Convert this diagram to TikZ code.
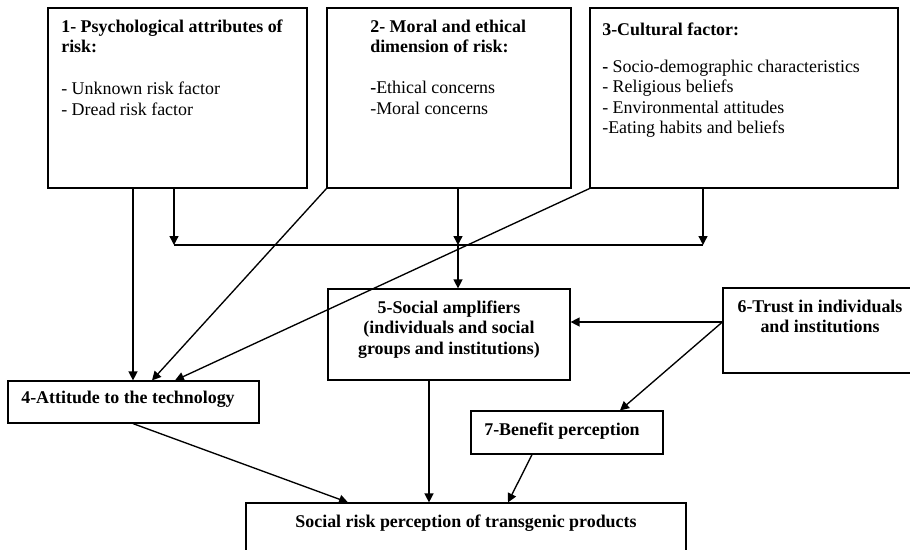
\documentclass[tikz,border=0pt]{standalone}
\usepackage{fontspec}
\setmainfont{Liberation Serif}
\usetikzlibrary{arrows.meta,fit}

\begin{document}
\begin{tikzpicture}[x=0.67pt, y=-0.67pt,
		box/.style={draw, line width=0.8pt, inner sep=0pt},
		txt/.style={inner sep=0pt, font=\fontsize{12}{13.7}\selectfont},
		btxt/.style={inner sep=0pt, font=\fontsize{12}{13.7}\selectfont\bfseries},
		arr/.style={line width=0.9pt, -{Triangle[length=6pt, width=6pt]}}]
				
				\useasboundingbox (0,0) rectangle (910,550);
				\clip (0,0) rectangle (910,550);
				
				%Level 1
				\node[box, fit={(48,8) (307,188)}] (psy) {};
				\node[box, fit={(327,8) (571,188)}] (mor) {};
				\node[box, fit={(590,8) (898,188)}] (cul) {};
				\node[txt, anchor=north west, align=left] (psytext) at (61,17.7) {\strut\textbf{1- Psychological attributes of}\\\textbf{risk:}\\[14.4pt]- Unknown risk factor\\- Dread risk factor};
				\node[txt, anchor=north west, align=left] (mortext) at (370,17.7) {\strut\textbf{2- Moral and ethical}\\\textbf{dimension of risk:}\\[13.8pt]\textbf{-}Ethical concerns\\-Moral concerns};
				\node[txt, anchor=north west, align=left] (cultext) at (602,20.7) {\strut\textbf{3-Cultural factor:}\\[11.1pt]\textbf{-} Socio-demographic characteristics\\- Religious beliefs\\- Environmental attitudes\\-Eating habits and beliefs};
				
				%Level 2
				\node[box, fit={(328,289) (570,380)}] (amp) {};
				\node[box, fit={(723,288) (917,373)}] (tru) {};
				\node[btxt, anchor=north, align=center] (amptext) at (449,298.7) {\strut 5-Social amplifiers\\(individuals and social\\groups and institutions)};
				\node[btxt, anchor=north, align=center] (trutext) at (820,297.7) {\strut 6-Trust in individuals\\and institutions};
				
				%Level 3
				\node[box, fit={(8,381) (259,423)}] (att) {};
				\node[box, fit={(471,411) (663,454)}] (ben) {};
				\node[box, fit={(246,503) (686,560)}] (soc) {};
				\node[btxt, anchor=base west] (atttext) at (21,403) {4-Attitude to the technology};
				\node[btxt, anchor=base west] (bentext) at (484,435) {7-Benefit perception};
				\node[btxt, anchor=base] (soctext) at (466,527) {Social risk perception of transgenic products};
				
				%Lines
				\coordinate (jl) at (174,245);
				\coordinate (jr) at (703,245);
				\draw[line width=0.9pt] (jl) -- (jr);
				\draw[arr] (psy.south -| jl) -- (jl);
				\draw[arr] (cul.south -| jr) -- (jr);
				\draw[arr] (mor.south -| 458,0) -- (jl -| 458,0);
				\draw[arr] (jl -| 458,0) -- (amp.north -| 458,0);
				
				\draw[arr] (psy.south -| 133,0) -- (att.north -| 133,0);
				\draw[arr] (mor.south west) -- (att.north -| 152,0);
				\draw[arr] (cul.south west) -- (att.north -| 175,0);
				
				\draw[arr] (tru.west |- 0,322) -- (amp.east |- 0,322);
				\draw[arr] (tru.west |- 0,322) -- (ben.north -| 620,0);
				
				\draw[arr] (att.south -| 133,0) -- (soc.north -| 348,0);
				\draw[arr] (amp.south -| 429,0) -- (soc.north -| 429,0);
				\draw[arr] (ben.south -| 532,0) -- (soc.north -| 508,0);
			\end{tikzpicture}
\end{document}
